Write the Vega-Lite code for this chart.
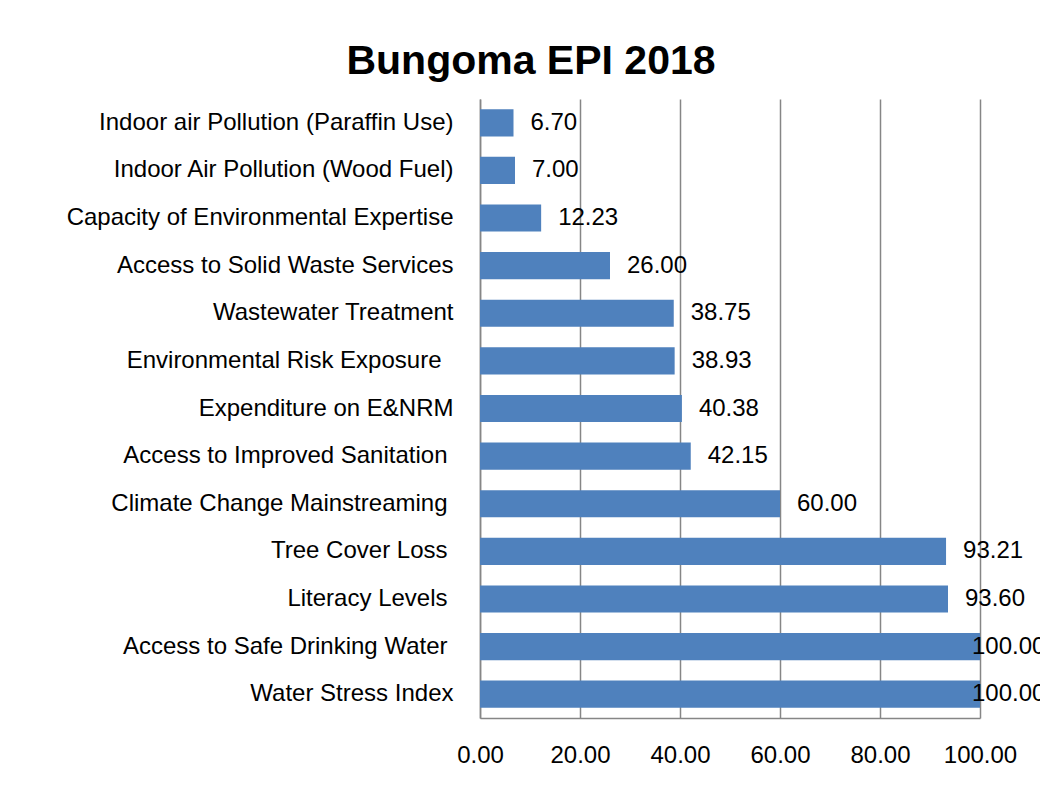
{
  "$schema": "https://vega.github.io/schema/vega-lite/v6.json",
  "width": 500,
  "height": 619,
  "autosize": {"type": "none"},
  "padding": {"left": 480, "top": 99, "right": 60, "bottom": 86},
  "background": "white",
  "title": {
    "text": "Bungoma EPI 2018",
    "font": "Liberation Sans",
    "fontSize": 41,
    "fontWeight": "bold",
    "color": "black",
    "anchor": "middle",
    "dx": -199,
    "offset": -16,
    "baseline": "alphabetic"
  },
  "data": {
    "values": [
      {"indicator": "Indoor air Pollution (Paraffin Use)", "score": 6.70},
      {"indicator": "Indoor Air Pollution (Wood Fuel)", "score": 7.00},
      {"indicator": "Capacity of Environmental Expertise", "score": 12.23},
      {"indicator": "Access to Solid Waste Services", "score": 26.00},
      {"indicator": "Wastewater Treatment", "score": 38.75},
      {"indicator": "Environmental Risk Exposure\u2002\u200b", "score": 38.93},
      {"indicator": "Expenditure on E&NRM", "score": 40.38},
      {"indicator": "Access to Improved Sanitation\u2005\u200b", "score": 42.15},
      {"indicator": "Climate Change Mainstreaming\u2005\u200b", "score": 60.00},
      {"indicator": "Tree Cover Loss\u2005\u200b", "score": 93.21},
      {"indicator": "Literacy Levels\u2005\u200b", "score": 93.60},
      {"indicator": "Access to Safe Drinking Water\u2005\u200b", "score": 100.00},
      {"indicator": "Water Stress Index", "score": 100.00}
    ]
  },
  "encoding": {
    "y": {
      "field": "indicator",
      "type": "nominal",
      "sort": null,
      "scale": {"paddingInner": 0.43, "paddingOuter": 0.215},
      "axis": {
        "title": null,
        "ticks": false,
        "tickSize": 0,
        "labelPadding": 27,
        "labelFont": "Liberation Sans",
        "labelFontSize": 24,
        "labelColor": "black",
        "labelLimit": 600,
        "domainColor": "#868686",
        "domainWidth": 1.5,
        "grid": false
      }
    },
    "x": {
      "field": "score",
      "type": "quantitative",
      "scale": {"domain": [0, 100], "nice": false},
      "axis": {
        "title": null,
        "values": [0, 20, 40, 60, 80, 100],
        "format": ".2f",
        "ticks": false,
        "tickSize": 0,
        "labelPadding": 44,
        "labelBaseline": "alphabetic",
        "labelFont": "Liberation Sans",
        "labelFontSize": 24,
        "labelColor": "black",
        "labelFlush": false,
        "labelOverlap": false,
        "domainColor": "#868686",
        "domainWidth": 1.5,
        "grid": true,
        "gridColor": "#868686",
        "gridWidth": 1.5
      }
    }
  },
  "layer": [
    {"mark": {"type": "bar", "color": "#4F81BD"}},
    {
      "transform": [{"filter": "datum.score < 100"}],
      "mark": {"type": "text", "align": "left", "baseline": "middle", "dx": 17, "font": "Liberation Sans", "fontSize": 24, "color": "black"},
      "encoding": {"text": {"field": "score", "type": "quantitative", "format": ".2f"}}
    },
    {
      "transform": [{"filter": "datum.score >= 100"}],
      "mark": {"type": "text", "align": "left", "baseline": "middle", "dx": -8, "font": "Liberation Sans", "fontSize": 24, "color": "black"},
      "encoding": {"text": {"field": "score", "type": "quantitative", "format": ".2f"}}
    }
  ],
  "config": {"view": {"stroke": null}}
}
